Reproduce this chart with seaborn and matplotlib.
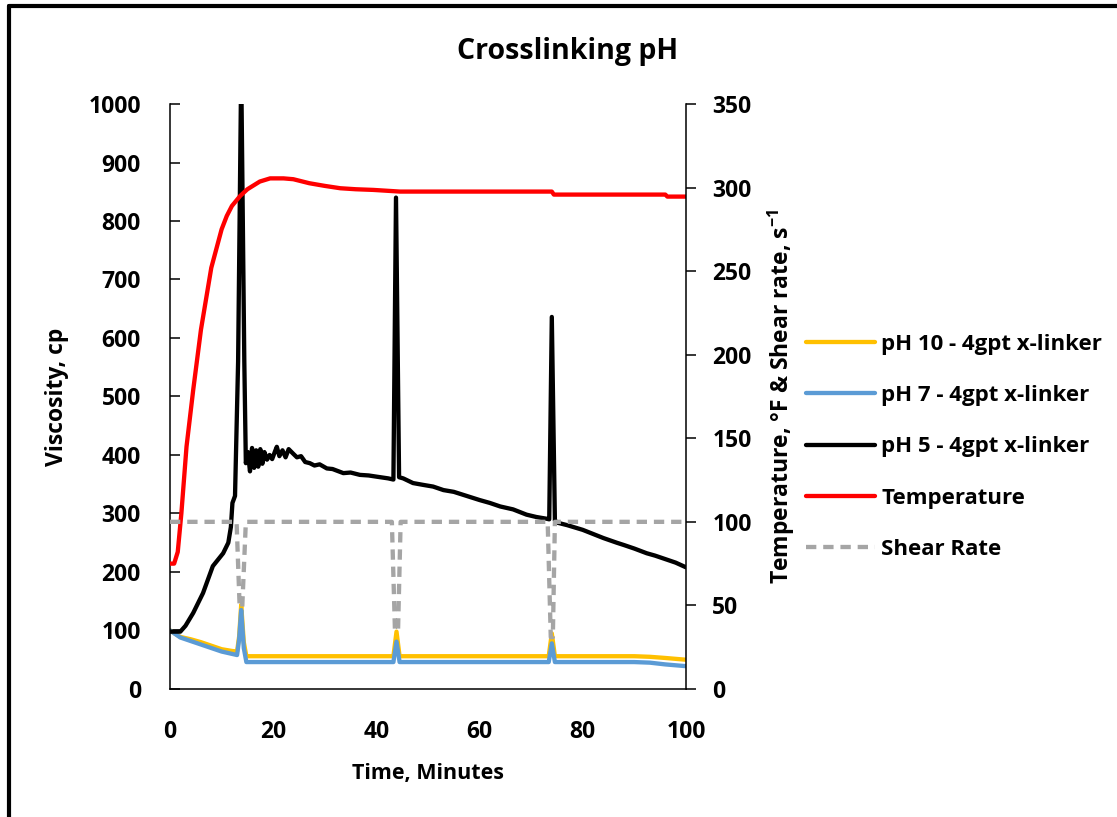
import numpy as np
import pandas as pd
import matplotlib
matplotlib.use("Agg")
import matplotlib.pyplot as plt
from matplotlib.lines import Line2D
import seaborn as sns

# Data (time in minutes)
t_ph10 = [0, 2, 4, 6, 8, 10, 12, 13.0, 13.4, 13.8, 14.3, 14.8, 20, 30, 40, 43.3, 43.9, 44.5,
          50, 60, 70, 73.4, 74.0, 74.6, 80, 90, 93, 96, 100]
v_ph10 = [100, 89, 85, 80, 74, 68, 65, 64, 90, 144, 80, 56, 56, 56, 56, 56, 98, 56,
          56, 56, 56, 56, 95, 56, 56, 56, 55, 53, 50]

t_ph7 = t_ph10
v_ph7 = [100, 88, 82, 76, 70, 64, 60, 58, 85, 135, 70, 46, 46, 46, 46, 46, 81, 46,
         46, 46, 46, 46, 78, 46, 46, 46, 45, 42, 39]

t_ph5 = [0, 1, 2, 3, 4.5, 6.4, 8.3, 10.3, 11.3, 11.8, 12.1, 12.6, 13.2, 13.8, 14.4, 14.7,
         15.1, 15.5, 15.9, 16.3, 16.7, 17.1, 17.5, 17.9, 18.3, 18.8, 19.3, 19.8, 20.3, 20.7,
         21.2, 21.8, 22.4, 23.0, 23.9, 24.6, 25.4, 26.2, 27.1, 28.0, 29.0, 30.4, 31.5, 33.6,
         35.0, 36.8, 38.5, 40.0, 42.3, 43.3, 43.8, 44.4, 45.2, 47.1, 49.0, 51.0, 53.0, 55.0,
         57.5, 60.0, 62.0, 64.0, 66.5, 69.1, 71.0, 73.0, 73.5, 74.0, 74.6, 75.2, 77.0, 80.0,
         82.0, 84.0, 86.6, 88.0, 90.0, 92.4, 94.0, 96.0, 98.0, 100.0]
v_ph5 = [98, 98, 98, 108, 130, 164, 210, 232, 250, 277, 318, 330, 560, 1060, 560, 386,
         405, 372, 412, 378, 408, 380, 410, 385, 405, 392, 400, 393, 405, 414,
         398, 408, 396, 410, 402, 396, 398, 388, 386, 382, 384, 377, 376, 369,
         370, 366, 365, 363, 360, 358, 840, 362, 360, 352, 349, 346, 340, 337,
         330, 323, 318, 312, 307, 298, 294, 291, 290, 636, 288, 284, 280, 272,
         265, 258, 250, 246, 240, 232, 228, 222, 216, 208]

t_temp = [0, 0.8, 1.5, 2.2, 3.2, 4.5, 6, 8, 10, 11, 12, 13.6, 15, 17.4, 19.4, 22, 23.9,
          27, 30, 33, 36, 39.4, 44.6, 50, 60, 70, 74.0, 74.4, 80, 90, 96.0, 96.4, 100]
v_temp = [75, 75, 82, 105, 145, 179, 215, 252, 275, 283, 289, 295, 299, 303.6, 305.5,
          305.5, 305, 302.6, 301, 299.6, 299, 298.6, 297.6, 297.6, 297.6, 297.6, 297.6,
          295.8, 295.8, 295.8, 295.8, 294.6, 294.6]

t_shear = [0, 12.9, 13.5, 14.0, 14.7, 15.0, 43.0, 43.6, 44.2, 44.7, 45.0,
           73.2, 73.8, 74.2, 74.6, 75.0, 100]
v_shear = [100, 100, 49, 49, 100, 100, 100, 35, 35, 100, 100,
           100, 31, 31, 100, 100, 100]

sns.set_style("white")
plt.rcParams["font.family"] = ["Open Sans", "DejaVu Sans"]
plt.rcParams["font.weight"] = "bold"
plt.rcParams["mathtext.fontset"] = "custom"
plt.rcParams["mathtext.bf"] = "Open Sans:bold"
plt.rcParams["mathtext.rm"] = "Open Sans:bold"
for key in ["text.color", "axes.labelcolor", "xtick.color", "ytick.color"]:
    plt.rcParams[key] = "black"

fig = plt.figure(figsize=(11.17, 8.17), dpi=100)
ax = fig.add_axes([0.1522, 0.1567, 0.4619, 0.7160])
ax2 = ax.twinx()

lw = 3.1
sns.lineplot(x=t_ph10, y=v_ph10, ax=ax, color="#FFC000", lw=lw, estimator=None,
             label="pH 10 - 4gpt x-linker", legend=False)
sns.lineplot(x=t_ph7, y=v_ph7, ax=ax, color="#5B9BD5", lw=lw, estimator=None,
             label="pH 7 - 4gpt x-linker", legend=False)
sns.lineplot(x=t_ph5, y=v_ph5, ax=ax, color="black", lw=lw, estimator=None,
             label="pH 5 - 4gpt x-linker", legend=False)
sns.lineplot(x=t_temp, y=v_temp, ax=ax2, color="#FF0000", lw=lw, estimator=None,
             label="Temperature", legend=False)
sns.lineplot(x=t_shear, y=v_shear, ax=ax2, color="#A5A5A5", lw=lw, estimator=None,
             label="Shear Rate", legend=False)
ax2.lines[-1].set_linestyle((0, (2.4, 1.6)))

ax.set_xlim(0, 100)
ax.set_ylim(0, 1000)
ax2.set_ylim(0, 350)
ax.set_xticks(range(0, 101, 20))
ax.set_yticks(range(0, 1001, 100))
ax2.set_yticks(range(0, 351, 50))

for a in (ax, ax2):
    for s in a.spines.values():
        s.set_linewidth(1.1)
        s.set_color("black")
    a.spines["top"].set_visible(False)
ax.spines["right"].set_visible(False)
ax2.spines["left"].set_visible(False)
ax2.spines["bottom"].set_visible(False)

tsize = 16.5
ax.tick_params(axis="x", direction="in", length=7, width=1.1, pad=22, labelsize=tsize)
ax.tick_params(axis="y", direction="in", length=7, width=1.1, pad=21, labelsize=tsize)
ax2.tick_params(axis="y", direction="out", length=7, width=1.1, pad=12, labelsize=tsize)
for lab in ax.get_xticklabels() + ax.get_yticklabels() + ax2.get_yticklabels():
    lab.set_fontweight("bold")

ax.set_xlabel("Time, Minutes", fontsize=15.5, fontweight="bold", labelpad=14)
ax.set_ylabel("Viscosity, cp", fontsize=16.5, fontweight="bold", labelpad=14)
ax2.set_ylabel(r"Temperature, °F & Shear rate, s$^{\mathbf{-1}}$", fontsize=16.5,
               fontweight="bold", labelpad=10)

fig.text(0.508, 1 - 52 / 817, "Crosslinking pH", ha="center", va="center",
         fontsize=20.5, fontweight="bold")

handles = ax.lines + ax2.lines
labels = [h.get_label() for h in handles]
leg = fig.legend(handles, labels, loc="center left", bbox_to_anchor=(0.722, 0.453),
                 frameon=False, fontsize=16, handlelength=3.1, handletextpad=0.27,
                 labelspacing=1.36, borderpad=0, borderaxespad=0)
for txt in leg.get_texts():
    txt.set_fontweight("bold")

# outer frame (left and top edges visible)
fig.add_artist(Line2D([9 / 1117, 9 / 1117], [0, 1 - 6 / 817], color="black", lw=3,
                      transform=fig.transFigure))
fig.add_artist(Line2D([9 / 1117, 1], [1 - 6 / 817, 1 - 6 / 817], color="black", lw=3,
                      transform=fig.transFigure))

fig.savefig("out.png", dpi=100)
